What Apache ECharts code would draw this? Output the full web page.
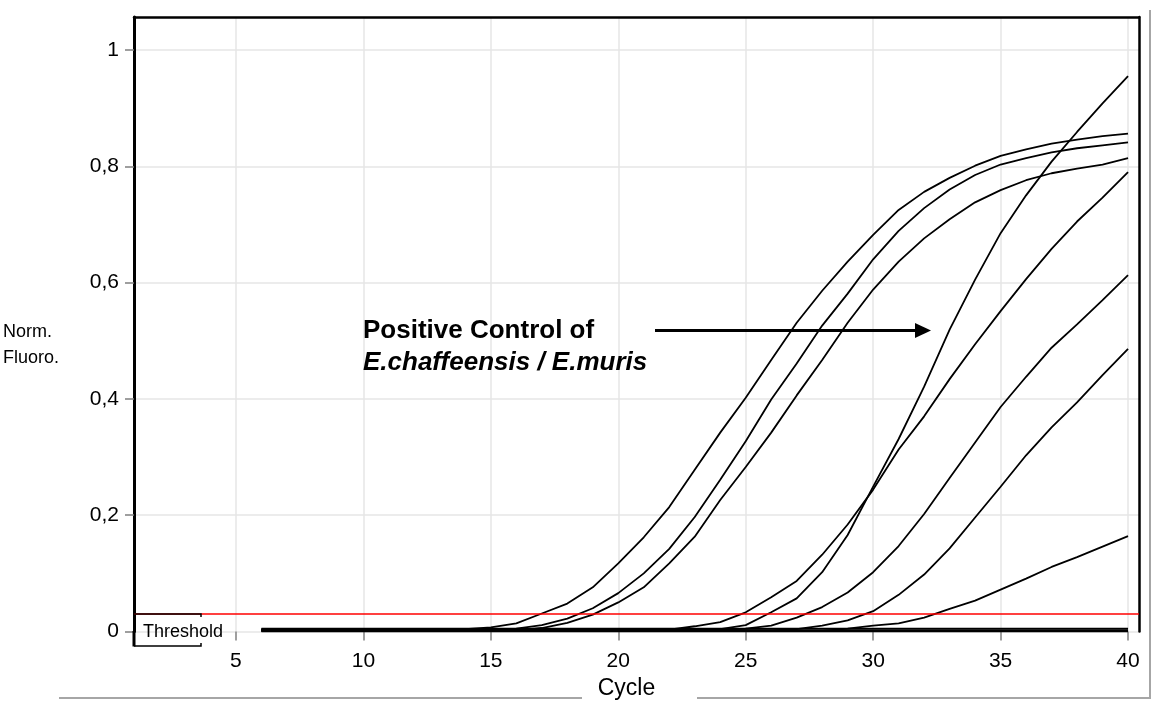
<!DOCTYPE html>
<html><head><meta charset="utf-8">
<script src="https://cdn.jsdelivr.net/npm/echarts@6/dist/echarts.min.js"></script>
<style>html,body{margin:0;padding:0;background:#fff}#c{width:1152px;height:708px}</style>
</head><body><div id="c"></div>
<script>
const cycles = [6,7,8,9,10,11,12,13,14,15,16,17,18,19,20,21,22,23,24,25,26,27,28,29,30,31,32,33,34,35,36,37,38,39,40];
const xTicks = [5,10,15,20,25,30,35,40];
const yTicks = [0,0.2,0.4,0.6,0.8,1];
const threshold = 0.031;

const curveA1 = [0.004,0.004,0.004,0.004,0.004,0.004,0.004,0.004,0.004,0.007,0.014,0.031,0.048,0.076,0.117,0.162,0.214,0.278,0.342,0.402,0.467,0.531,0.586,0.636,0.682,0.725,0.756,0.780,0.801,0.818,0.829,0.839,0.846,0.852,0.856];
const curveA2 = [0.003,0.003,0.003,0.003,0.003,0.003,0.003,0.003,0.003,0.003,0.005,0.011,0.022,0.040,0.066,0.100,0.142,0.197,0.261,0.327,0.399,0.461,0.526,0.581,0.640,0.689,0.728,0.760,0.785,0.803,0.814,0.824,0.831,0.836,0.841];
const curveA3 = [0.002,0.002,0.002,0.002,0.002,0.002,0.002,0.002,0.002,0.002,0.002,0.006,0.015,0.029,0.050,0.076,0.117,0.163,0.226,0.283,0.342,0.406,0.467,0.531,0.588,0.636,0.676,0.709,0.738,0.759,0.776,0.788,0.796,0.803,0.814];
const curveB1 = [0.002,0.002,0.002,0.002,0.002,0.002,0.002,0.002,0.002,0.002,0.002,0.002,0.002,0.002,0.002,0.002,0.003,0.009,0.016,0.033,0.059,0.087,0.132,0.184,0.244,0.313,0.370,0.434,0.494,0.551,0.606,0.658,0.705,0.746,0.790];
const curveB2 = [0.001,0.001,0.001,0.001,0.001,0.001,0.001,0.001,0.001,0.001,0.001,0.001,0.001,0.001,0.001,0.001,0.001,0.001,0.004,0.011,0.033,0.057,0.102,0.166,0.249,0.331,0.421,0.519,0.605,0.685,0.750,0.808,0.859,0.908,0.955];
const curveB3 = [0.003,0.003,0.003,0.003,0.003,0.003,0.003,0.003,0.003,0.003,0.003,0.003,0.003,0.003,0.003,0.003,0.003,0.003,0.003,0.005,0.010,0.024,0.042,0.067,0.102,0.147,0.202,0.264,0.325,0.386,0.438,0.488,0.528,0.570,0.613];
const curveB4 = [0.002,0.002,0.002,0.002,0.002,0.002,0.002,0.002,0.002,0.002,0.002,0.002,0.002,0.002,0.002,0.002,0.002,0.002,0.002,0.002,0.002,0.004,0.010,0.019,0.035,0.063,0.098,0.143,0.196,0.249,0.303,0.351,0.394,0.441,0.486];
const curveB5 = [0.001,0.001,0.001,0.001,0.001,0.001,0.001,0.001,0.001,0.001,0.001,0.001,0.001,0.001,0.001,0.001,0.001,0.001,0.001,0.001,0.001,0.001,0.001,0.005,0.010,0.014,0.024,0.039,0.053,0.072,0.091,0.111,0.128,0.146,0.164];
const negative1 = [0.000,0.000,0.000,0.000,0.000,0.000,0.000,0.000,0.000,0.000,0.000,0.000,0.000,0.000,0.000,0.000,0.000,0.000,0.000,0.000,0.000,0.000,0.000,0.000,0.000,0.000,0.000,0.000,0.000,0.000,0.000,0.000,0.000,0.000,0.000];
const negative2 = [0.0025,0.0025,0.0025,0.0025,0.0025,0.0025,0.0025,0.0025,0.0025,0.0025,0.0025,0.0025,0.0025,0.0025,0.0025,0.0025,0.0025,0.0025,0.0025,0.0025,0.0025,0.0025,0.0025,0.0025,0.0025,0.0025,0.0025,0.0025,0.0025,0.0025,0.0025,0.0025,0.0025,0.0025,0.0025];
const negative3 = [0.005,0.005,0.005,0.005,0.005,0.005,0.005,0.005,0.005,0.005,0.005,0.005,0.005,0.005,0.005,0.005,0.005,0.005,0.005,0.005,0.005,0.005,0.005,0.005,0.005,0.005,0.005,0.005,0.005,0.005,0.005,0.005,0.005,0.005,0.005];

const allCurves = [negative1, negative2, negative3, curveA1, curveA2, curveA3, curveB1, curveB2, curveB3, curveB4, curveB5];

const FONT = '"Liberation Sans", Arial, Helvetica, sans-serif';
const chart = echarts.init(document.getElementById('c'), null, {renderer: 'canvas'});

const series = allCurves.map((vals, i) => {
  const s = {
    type: 'line',
    data: cycles.map((c, j) => [c, vals[j]]),
    showSymbol: false,
    symbol: 'none',
    silent: true,
    animation: false,
    lineStyle: {color: '#000', width: 1.8},
    itemStyle: {color: '#000'},
    z: 3
  };
  if (i === allCurves.length - 1) {
    s.markLine = {
      silent: true,
      symbol: 'none',
      animation: false,
      label: {show: false},
      lineStyle: {color: '#ff0000', width: 1.6, type: 'solid'},
      data: [{yAxis: threshold}]
    };
  }
  return s;
});

const txt = (text, x, y, font, extra) => Object.assign({
  type: 'text', silent: true, z: 10,
  style: {text, x, y, font, fill: '#000', textAlign: 'left', textVerticalAlign: 'middle', align: 'left', verticalAlign: 'middle'}
}, extra || {});

chart.setOption({
  animation: false,
  backgroundColor: '#fff',
  textStyle: {fontFamily: FONT},
  grid: {left: 134, right: 13, top: 17, bottom: 76.5, outerBoundsMode: 'none', containLabel: false},
  xAxis: [{
    type: 'value', min: 1, max: 40.43, position: 'bottom',
    axisLine: {show: false, onZero: false},
    axisTick: {show: true, customValues: xTicks, length: 9, lineStyle: {color: '#808080', width: 1.5}},
    axisLabel: {customValues: xTicks, margin: 19, fontSize: 21, color: '#000', fontFamily: FONT},
    splitLine: {show: true, lineStyle: {color: '#e6e6e6', width: 1.5}},
    name: 'Cycle', nameLocation: 'middle', nameGap: 46,
    nameTextStyle: {fontSize: 23, color: '#000', fontFamily: FONT, padding: [0, 20, 0, 0]}
  }, {
    type: 'value', min: 1, max: 40.43, position: 'top',
    axisLine: {show: true, onZero: false, lineStyle: {color: '#000', width: 2.5}},
    axisTick: {show: false}, axisLabel: {show: false}, splitLine: {show: false}
  }],
  yAxis: [{
    type: 'value', min: 0, max: 1.0567, position: 'left',
    axisLine: {show: true, onZero: false, lineStyle: {color: '#000', width: 3}},
    axisTick: {show: true, customValues: yTicks, length: 9, lineStyle: {color: '#808080', width: 1.5}},
    axisLabel: {customValues: yTicks, margin: 15, fontSize: 21, color: '#000', fontFamily: FONT,
      formatter: v => String(v).replace('.', ',')},
    splitLine: {show: true, lineStyle: {color: '#e6e6e6', width: 1.5}}
  }, {
    type: 'value', min: 0, max: 1.0567, position: 'right',
    axisLine: {show: true, onZero: false, lineStyle: {color: '#000', width: 2.5}},
    axisTick: {show: false}, axisLabel: {show: false}, splitLine: {show: false}
  }],
  series: series,
  graphic: [
    {type: 'line', silent: true, z: 10, shape: {x1: 134, y1: 631, x2: 134, y2: 646.5}, style: {stroke: '#000', lineWidth: 3}},
    {type: 'polyline', silent: true, z: 9, shape: {points: [[134, 614], [201, 614], [201, 617]]}, style: {stroke: '#000', lineWidth: 1.5, fill: null}},
    {type: 'polyline', silent: true, z: 10, shape: {points: [[134, 646], [201, 646], [201, 643]]}, style: {stroke: '#000', lineWidth: 1.5, fill: null}},
    txt('Threshold', 143, 632, '18px ' + FONT),
    txt('Norm.', 3, 332, '18px ' + FONT),
    txt('Fluoro.', 3, 358, '18px ' + FONT),
    txt('Positive Control of', 363, 331, 'bold 26px ' + FONT),
    txt('E.chaffeensis / E.muris', 363, 363, 'italic bold 26px ' + FONT),
    {type: 'line', silent: true, z: 10, shape: {x1: 655, y1: 330.5, x2: 918, y2: 330.5}, style: {stroke: '#000', lineWidth: 2.8}},
    {type: 'polygon', silent: true, z: 10, shape: {points: [[915, 323], [931, 330.5], [915, 338]]}, style: {fill: '#000'}},
    {type: 'polyline', silent: true, z: 1, shape: {points: [[59, 698], [582, 698]]}, style: {stroke: '#a6a6a6', lineWidth: 2, fill: null}},
    {type: 'polyline', silent: true, z: 1, shape: {points: [[697, 698], [1150, 698], [1150, 10]]}, style: {stroke: '#a6a6a6', lineWidth: 2, fill: null}}
  ]
});
</script>
</body></html>
